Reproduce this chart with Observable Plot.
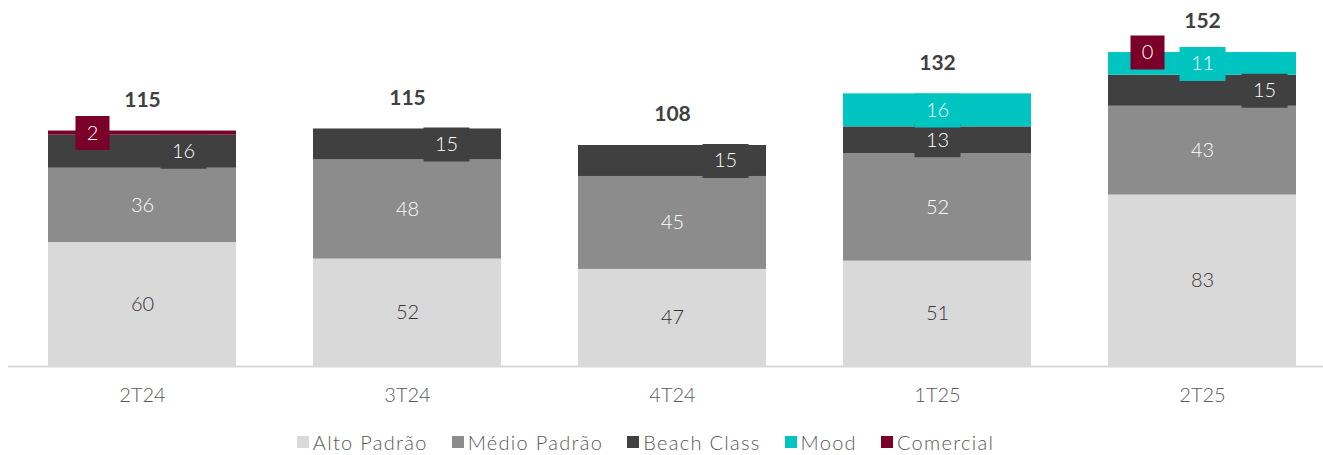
<!DOCTYPE html>
<html>
<head>
<meta charset="utf-8">
<script src="https://cdn.jsdelivr.net/npm/d3@7"></script>
<script src="https://cdn.jsdelivr.net/npm/@observablehq/plot@0.6"></script>
<style>
  body { margin: 0; background: #fff; font-family: Lato, "Open Sans", sans-serif; }
  #chart { width: 1323px; }
  .legend { display: flex; justify-content: center; gap: 24px; padding-top: 19px; padding-right: 32px;
    font-family: Lato, sans-serif; font-weight: 300; font-size: 20px; letter-spacing: 1.3px; line-height: 22px; color: #595959; }
  .legend span.item { display: inline-flex; align-items: center; }
  .legend span.sw { display: inline-block; width: 12px; height: 12px; margin-right: 4px; }
</style>
</head>
<body>
<div id="chart"></div>
<script>
const categories = ["2T24", "3T24", "4T24", "1T25", "2T25"];
const seriesNames = ["Alto Padrão", "Médio Padrão", "Beach Class", "Mood", "Comercial"];
const altoPadrao = [60, 52, 47, 51, 83];
const medioPadrao = [36, 48, 45, 52, 43];
const beachClass = [16, 15, 15, 13, 15];
const mood = [null, null, null, 16, 11];
const comercial = [2, null, null, null, 0];
const totals = [115, 115, 108, 132, 152];
const seriesColors = ["#d9d9d9", "#8c8c8c", "#404040", "#00c4c0", "#7a0029"];

const seriesValues = [altoPadrao, medioPadrao, beachClass, mood, comercial];

// stack rows
const rows = [];
const tops = [];
categories.forEach((c, i) => {
  let acc = 0;
  seriesNames.forEach((s, j) => {
    const v = seriesValues[j][i];
    if (v == null) return;
    rows.push({cat: c, series: s, idx: i, value: v, y1: acc, y2: acc + v, mid: acc + v / 2});
    acc += v;
  });
  tops.push({cat: c, top: acc, total: totals[i]});
});

// label placement (horizontal shifts of boxed labels, px)
const labelShift = {
  "Beach Class": [41, 39, 53, 0, 62],
  "Mood": [0, 0, 0, 0, 0],
  "Comercial": [-50, 0, 0, 0, -55]
};
const boxed = new Set(["Beach Class", "Mood", "Comercial"]);

function boxSymbol(w, h) {
  return { draw(ctx) { ctx.rect(-w / 2, -h / 2, w, h); } };
}

const colorOf = s => seriesColors[seriesNames.indexOf(s)];

const marks = [
  Plot.rectY(rows, {x: "cat", y1: "y1", y2: "y2", fill: d => colorOf(d.series)}),
  Plot.ruleY([0], {stroke: "#d9d9d9", strokeWidth: 2}),
  Plot.text(rows.filter(d => !boxed.has(d.series)), {
    x: "cat", y: "mid", text: d => String(d.value),
    fill: d => d.series === "Alto Padrão" ? "#333333" : "#ffffff",
    fontSize: 20, fontWeight: 300
  }),
  Plot.text(tops, {x: "cat", y: "top", text: d => String(d.total), dy: -31,
    fill: "#404040", fontSize: 21, fontWeight: "bold"})
];

rows.filter(d => boxed.has(d.series)).forEach(d => {
  const txt = String(d.value);
  const w = txt.length > 1 ? 46 : 34;
  const dx = labelShift[d.series][d.idx];
  marks.push(Plot.dot([d], {x: "cat", y: "mid", dx, symbol: boxSymbol(w, 34), fill: colorOf(d.series), stroke: "none"}));
  marks.push(Plot.text([d], {x: "cat", y: "mid", dx, text: () => txt, fill: "#ffffff", fontSize: 20, fontWeight: 300}));
});

const chart = Plot.plot({
  width: 1323,
  height: 412,
  marginLeft: 8,
  marginRight: 0,
  marginTop: 0,
  marginBottom: 46,
  style: {fontFamily: "Lato, sans-serif", background: "#fff", overflow: "visible"},
  x: {type: "band", domain: categories, paddingInner: 0.289, paddingOuter: 0.1185, align: 0.603, label: null},
  y: {domain: [0, 177.2], axis: null},
  marks: [
    ...marks,
    Plot.axisX({tickSize: 0, tickPadding: 21, fontSize: 20, fill: "#595959", fontWeight: 300, label: null})
  ]
});

const root = document.getElementById("chart");
root.appendChild(chart);

const legend = document.createElement("div");
legend.className = "legend";
seriesNames.forEach((s, j) => {
  const item = document.createElement("span");
  item.className = "item";
  const sw = document.createElement("span");
  sw.className = "sw";
  sw.style.background = seriesColors[j];
  item.appendChild(sw);
  item.appendChild(document.createTextNode(s));
  legend.appendChild(item);
});
root.appendChild(legend);
</script>
</body>
</html>
